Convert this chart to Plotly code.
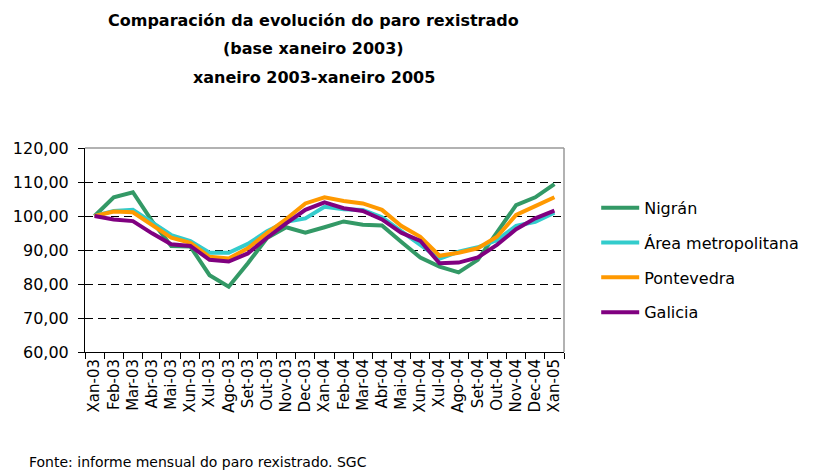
import plotly.graph_objects as go

months = ["Xan-03", "Feb-03", "Mar-03", "Abr-03", "Mai-03", "Xun-03", "Xul-03",
          "Ago-03", "Set-03", "Out-03", "Nov-03", "Dec-03", "Xan-04", "Feb-04",
          "Mar-04", "Abr-04", "Mai-04", "Xun-04", "Xul-04", "Ago-04", "Set-04",
          "Out-04", "Nov-04", "Dec-04", "Xan-05"]

nigran = [100.0, 105.5, 107.0, 98.5, 91.2, 91.0, 82.6, 79.2, 86.1, 93.5, 96.7, 95.1,
          96.7, 98.4, 97.4, 97.2, 92.4, 87.8, 85.1, 83.4, 87.1, 95.0, 103.2, 105.5, 109.4]
area_metro = [100.0, 101.5, 101.8, 98.2, 94.4, 92.6, 89.2, 89.2, 91.8, 95.5, 98.3, 99.3,
              102.7, 102.0, 101.8, 99.6, 95.4, 91.5, 87.4, 89.5, 90.8, 92.9, 97.1, 98.3, 101.0]
pontevedra = [100.0, 101.3, 101.1, 97.4, 93.6, 92.1, 88.0, 87.5, 90.5, 95.0, 99.1, 103.7,
              105.5, 104.4, 103.7, 101.8, 97.1, 93.9, 88.3, 89.2, 90.5, 93.9, 100.3, 102.9, 105.5]
galicia = [100.0, 99.0, 98.5, 94.9, 91.7, 91.2, 87.1, 86.6, 89.0, 93.6, 97.8, 101.8,
           104.0, 102.3, 101.5, 99.0, 95.1, 92.7, 86.1, 86.3, 87.8, 91.5, 96.1, 99.3, 101.6]

series = [
    ("Nigrán", nigran, "#339966"),
    ("Área metropolitana", area_metro, "#33CCCC"),
    ("Pontevedra", pontevedra, "#FF9900"),
    ("Galicia", galicia, "#800080"),
]

FONT = "DejaVu Sans"

fig = go.Figure()
for name, vals, color in series:
    fig.add_trace(go.Scatter(
        x=months, y=vals, name=name, mode="lines",
        line=dict(color=color, width=4),
        legendgroup=name,
    ))

W, H = 815, 470
L, R, T, B = 85, 250, 148, 118

fig.update_layout(
    width=W, height=H,
    margin=dict(l=L, r=R, t=T, b=B),
    paper_bgcolor="white", plot_bgcolor="white",
    font=dict(family=FONT, color="black"),
    separators=",.",
    showlegend=True,
    legend=dict(
        x=1.065, y=0.79, xanchor="left", yanchor="top",
        font=dict(family=FONT, size=16, color="black"),
        tracegroupgap=11,
        itemwidth=38,
        bgcolor="rgba(0,0,0,0)",
    ),
    xaxis=dict(
        type="category",
        range=[-0.5, len(months) - 0.5],
        tickangle=-90,
        tickfont=dict(family=FONT, size=15, color="black"),
        showline=True, linecolor="black", linewidth=1,
        ticks="outside", ticklen=6, tickcolor="black",
        tickson="boundaries",
        showgrid=False, zeroline=False,
    ),
    yaxis=dict(
        range=[60, 120],
        dtick=10,
        tickformat=".2f",
        tickfont=dict(family=FONT, size=16, color="black"),
        ticklabelstandoff=6,
        showline=True, linecolor="black", linewidth=1,
        ticks="outside", ticklen=6, tickcolor="black",
        showgrid=True, gridcolor="black", gridwidth=1, griddash="8px,5px",
        zeroline=False,
    ),
    shapes=[
        # grey frame on the top and right sides of the plot area
        dict(type="line", xref="paper", yref="paper", x0=0, x1=1, y0=1, y1=1,
             line=dict(color="#999999", width=1.5), layer="above"),
        dict(type="line", xref="paper", yref="paper", x0=1, x1=1, y0=0, y1=1,
             line=dict(color="#999999", width=1.5), layer="above"),
    ],
)

title_lines = [
    ("Comparación da evolución do paro rexistrado", 20),
    ("(base xaneiro 2003)", 49),
    ("xaneiro 2003-xaneiro 2005", 78),
]
for text, ypx in title_lines:
    fig.add_annotation(
        text="<b>%s</b>" % text, xref="paper", yref="paper",
        x=(314 - L) / (W - L - R), y=1 + (T - ypx) / (H - T - B),
        xanchor="center", yanchor="middle", showarrow=False,
        font=dict(family=FONT, size=16, color="black"),
    )

fig.add_annotation(
    text="Fonte: informe mensual do paro rexistrado. SGC",
    xref="paper", yref="paper",
    x=(27 - L) / (W - L - R), y=-(462 - (H - B)) / (H - T - B),
    xanchor="left", yanchor="middle", showarrow=False,
    font=dict(family=FONT, size=14, color="black"),
)

fig.write_html("out.html")
